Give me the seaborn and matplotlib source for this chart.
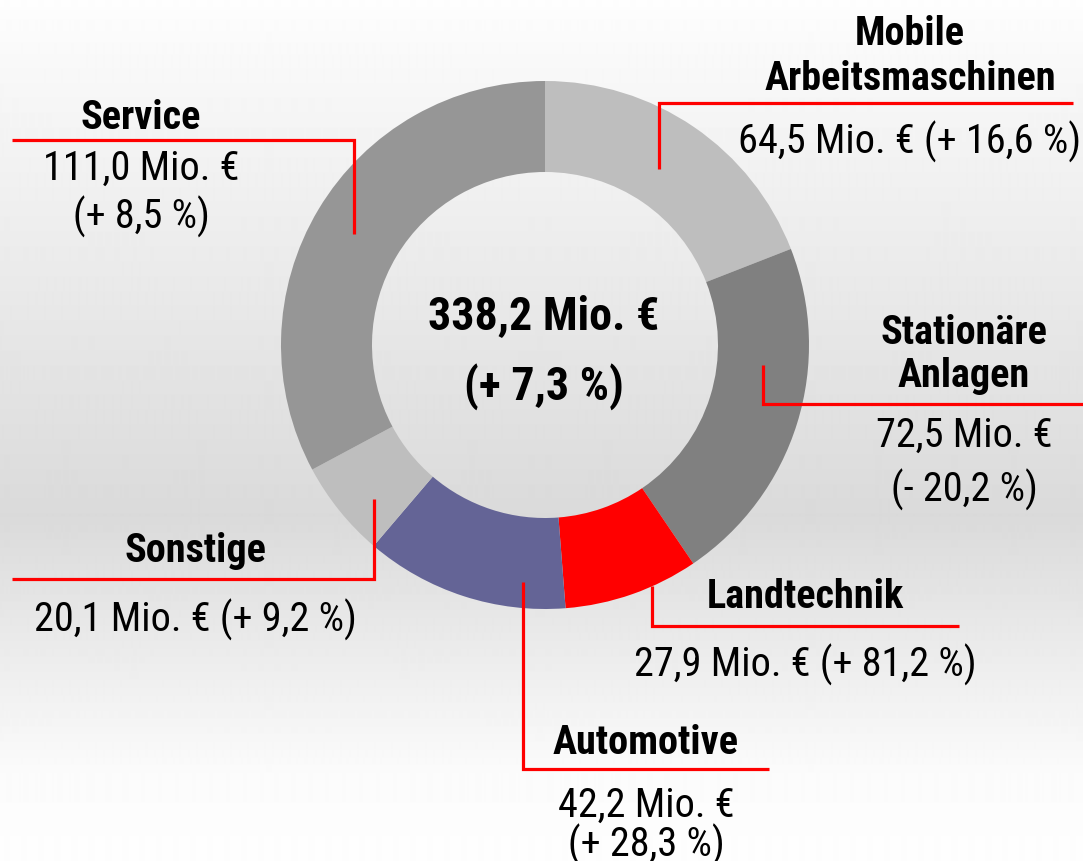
import numpy as np
import matplotlib
matplotlib.use("Agg")
import matplotlib.pyplot as plt
from matplotlib import font_manager
import seaborn as sns

# --- data ---
segments = ["Mobile Arbeitsmaschinen", "Stationäre Anlagen", "Landtechnik",
            "Automotive", "Sonstige", "Service"]
umsatz = [64.5, 72.5, 27.9, 42.2, 20.1, 111.0]
veraenderung = ["+ 16,6 %", "- 20,2 %", "+ 81,2 %", "+ 28,3 %", "+ 9,2 %", "+ 8,5 %"]
farben = ["#bebebe", "#808080", "#ff0000", "#646496", "#bebebe", "#969696"]
gesamt_text = "338,2 Mio. €"
gesamt_veraenderung = "+ 7,3 %"

sns.set_style("white")

# pick a condensed face if one is installed
fonts = {(f.name, f.stretch) for f in font_manager.fontManager.ttflist}
names = {n for n, _ in fonts}
family, stretch, scale = "Liberation Sans", "normal", 0.83
for cand in ["Liberation Sans Narrow", "Arial Narrow", "Roboto Condensed", "Open Sans Condensed"]:
    if cand in names:
        family, stretch, scale = cand, "normal", 1.0
        break
else:
    if ("DejaVu Sans", "condensed") in fonts:
        family, stretch, scale = "DejaVu Sans", "condensed", 0.9
plt.rcParams["font.family"] = [family, "DejaVu Sans"]

W, H = 1083, 862
fig = plt.figure(figsize=(W / 100, H / 100), dpi=100)

# background gradient (white -> light gray -> white)
ax_bg = fig.add_axes([0, 0, 1, 1])
stops_y = [0.0, 0.07, 0.6, 0.9, 1.0]
stops_v = [0.995, 0.975, 0.855, 0.985, 0.995]
rows = np.interp(np.linspace(0, 1, H), stops_y, stops_v)
ax_bg.imshow(np.repeat(rows[:, None], 2, axis=1), cmap="gray", vmin=0, vmax=1,
             aspect="auto", extent=[0, W, H, 0], interpolation="bilinear")
ax_bg.set_axis_off()

ax = fig.add_axes([0, 0, 1, 1])
ax.patch.set_alpha(0)

def Y(py):
    return H - py

ax.pie(umsatz, colors=sns.color_palette(farben), startangle=90, counterclock=False,
       center=(545, Y(346)), radius=264,
       wedgeprops=dict(width=264 - 173, linewidth=0))
ax.set_xlim(0, W)
ax.set_ylim(0, H)
ax.set_aspect("equal")
ax.set_axis_off()

fs = 29 * scale
red = "#ff0000"

def txt(x, py, s, bold=False, size=fs):
    ax.text(x, Y(py), s, ha="center", va="baseline", fontsize=size,
            fontweight="bold" if bold else "normal", fontstretch=stretch,
            color="black")

def leader(xs, pys):
    ax.plot(xs, [Y(p) for p in pys], color=red, lw=2.3, solid_capstyle="butt",
            solid_joinstyle="miter")

def mio(v):
    return f"{v:.1f}".replace(".", ",") + " Mio. €"

# Mobile Arbeitsmaschinen
txt(910, 45, "Mobile", bold=True)
txt(910, 90, "Arbeitsmaschinen", bold=True)
txt(910, 154, f"{mio(umsatz[0])} ({veraenderung[0]})")
leader([659, 659, 1073], [170, 104, 104])

# Stationäre Anlagen
txt(964, 344, "Stationäre", bold=True)
txt(964, 387, "Anlagen", bold=True)
txt(964, 447, mio(umsatz[1]))
txt(964, 502, f"({veraenderung[1]})")
leader([763, 763, 1083], [366, 405, 405])

# Landtechnik
txt(805, 608, segments[2], bold=True)
txt(805, 677, f"{mio(umsatz[2])} ({veraenderung[2]})")
leader([652, 652, 959], [587, 627, 627])

# Automotive
txt(646, 754, segments[3], bold=True)
txt(646, 817, mio(umsatz[3]))
txt(646, 857, f"({veraenderung[3]})")
leader([523, 523, 769], [583, 770, 770])

# Sonstige
txt(195, 562, segments[4], bold=True)
txt(195, 632, f"{mio(umsatz[4])} ({veraenderung[4]})")
leader([374, 374, 12], [500, 580, 580])

# Service
txt(141, 129, segments[5], bold=True)
txt(141, 180, mio(umsatz[5]))
txt(141, 229, f"({veraenderung[5]})")
leader([354, 354, 12], [235, 141, 141])

# Gesamt in der Mitte
txt(544, 329, gesamt_text, bold=True, size=33 * scale)
txt(544, 400, f"({gesamt_veraenderung})", bold=True, size=33 * scale)

fig.savefig("out.png", dpi=100)
